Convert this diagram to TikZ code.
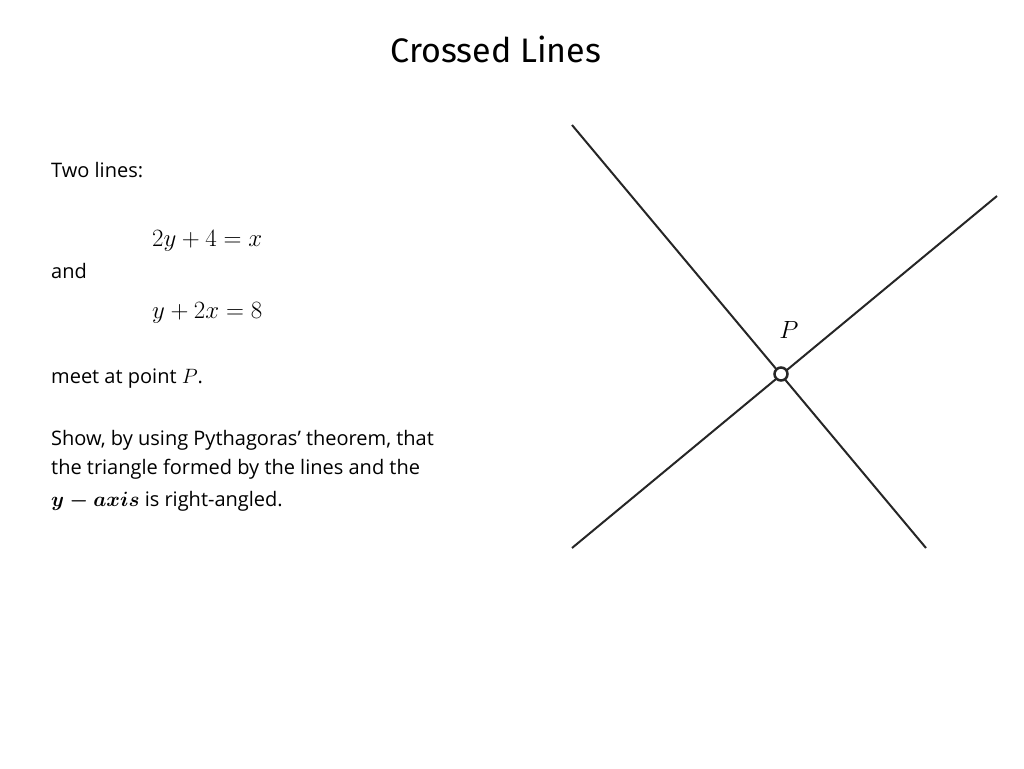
\documentclass[tikz,border=0pt]{standalone}
\usepackage{fontspec}
\setmainfont{Open Sans}
\newfontfamily\titlefont{Fira Sans}
\begin{document}
\begin{tikzpicture}[x=1pt,y=-1pt,
  body/.style={anchor=base west,inner sep=0pt,font=\fontsize{20}{24}\selectfont},
  eq/.style={anchor=base west,inner sep=0pt,font=\fontsize{27}{30}\selectfont},
  ln/.style={line width=2pt,black!85}]
\useasboundingbox (0,0) rectangle (1024,768);
\node[anchor=base,inner sep=0pt,font=\titlefont\fontsize{34}{40}\selectfont] (title) at (496,63) {Crossed Lines};
\node[body] (t1) at (51,177) {Two lines:};
\node[eq] (e1) at (152,246) {$2y+4=x$};
\node[body] (t2) at (51,278) {and};
\node[eq] (e2) at (152,318) {$y+2x=8$};
\node[body] (t3) at (51,383) {meet at point $P$.};
\node[body] (t4) at (51,445) {Show, by using Pythagoras' theorem, that};
\node[body] (t5) at (51,474) {the triangle formed by the lines and the};
\node[body] (t6) at (51,506) {{\boldmath$y-axis$} is right-angled.};
\coordinate (a1) at (572,125); \coordinate (a2) at (926,548);
\coordinate (b1) at (572,548); \coordinate (b2) at (997,196);
\draw[ln] (a1) -- (a2);
\draw[ln] (b1) -- (b2);
\node[circle,draw=black!85,line width=2.5pt,fill=white,minimum size=13pt,inner sep=0pt] (P) at (781,374) {};
\node[inner sep=0pt,font=\fontsize{30}{34}\selectfont] (Pl) at (789,330) {$P$};
\end{tikzpicture}
\end{document}
